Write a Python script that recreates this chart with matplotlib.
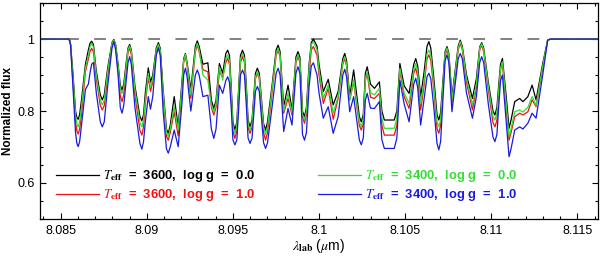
import matplotlib
matplotlib.use("Agg")
import matplotlib.pyplot as plt
from matplotlib.ticker import MultipleLocator, FixedLocator

plt.rcParams['font.family'] = ['Liberation Sans', 'DejaVu Sans']
plt.rcParams['mathtext.fontset'] = 'stix'

# wavelength (micron) of read points
wave = [8.0838, 8.08546, 8.08552, 8.085575, 8.085718, 8.085862, 8.08594, 8.086017, 8.08610, 8.086207,
        8.086437, 8.086609, 8.08670, 8.086799, 8.0869, 8.087069, 8.08730, 8.087414, 8.08753, 8.08773,
        8.08798, 8.088086, 8.08819, 8.088333, 8.08846, 8.088563, 8.08866, 8.088793, 8.08891, 8.089006,
        8.08910, 8.08931, 8.08960, 8.089713, 8.08981, 8.089914, 8.090086, 8.090213, 8.090345, 8.09055,
        8.090672, 8.09078, 8.090948, 8.09114, 8.091247, 8.09136, 8.091592, 8.091822, 8.09204, 8.09214,
        8.092241, 8.09234, 8.092557, 8.09282, 8.092931, 8.09304, 8.093259, 8.093546, 8.09375, 8.093891,
        8.09402, 8.094213, 8.094408, 8.09459, 8.094695, 8.09480, 8.0949, 8.09500, 8.095115, 8.09523,
        8.09534, 8.09544, 8.095557, 8.09567, 8.09578, 8.09588, 8.095994, 8.09611, 8.09631, 8.096419,
        8.09653, 8.09678, 8.096897, 8.09701, 8.09727, 8.09751, 8.097626, 8.09774, 8.097948, 8.098201,
        8.098431, 8.09866, 8.098776, 8.09889, 8.09904, 8.099155, 8.09927, 8.099425, 8.09955, 8.099672,
        8.099885, 8.1, 8.100247, 8.100534, 8.100822, 8.101109, 8.10138, 8.101494, 8.10160, 8.101782,
        8.102011, 8.10234, 8.102454, 8.10257, 8.10269, 8.102799, 8.102989, 8.103218, 8.103506, 8.10365,
        8.103793, 8.104368, 8.10452, 8.104695, 8.104943, 8.10523, 8.10550, 8.105615, 8.10573, 8.105902,
        8.106092, 8.10627, 8.106379, 8.10649, 8.106667, 8.10685, 8.106954, 8.10706, 8.10732, 8.107431,
        8.10754, 8.107718, 8.10808, 8.108201, 8.10832, 8.108563, 8.108908, 8.109138, 8.10933, 8.109443,
        8.10956, 8.109828, 8.11010, 8.110213, 8.11033, 8.11043, 8.11054, 8.110649, 8.11085, 8.111034,
        8.11115, 8.111362, 8.111649, 8.111839, 8.112126, 8.112374, 8.112603, 8.112989, 8.113276, 8.113448,
        8.1162]

flux_3600_g00 = [1, 1, .997, .985, .90, .80, .782, .777, .79, .83,
                 .93, .97, .988, .994, .985, .91, .845, .831, .845, .92,
                 .99, .999, .985, .93, .872, .858, .875, .93, .975, .985,
                 .97, .87, .785, .773, .79, .85, .92, .88, .90, .975,
                 .99, .975, .86, .75, .738, .76, .84, .756, .88, .945,
                 .96, .935, .86, .98, .995, .98, .93, .934, .83, .807,
                 .83, .932, .905, .96, .969, .955, .87, .77, .747, .77,
                 .87, .955, .969, .955, .87, .775, .756, .775, .905, .919,
                 .905, .765, .747, .77, .87, .97, .983, .965, .812, .872,
                 .803, .95, .965, .95, .80, .784, .81, .93, .99, 1.0,
                 .98, .93, .854, .888, .817, .854, .945, .960, .94, .840,
                 .914, .785, .770, .79, .905, .923, .875, .863, .881, .80,
                 .775, .775, .80, .932, .87, .849, .93, .946, .925, .840,
                 .905, .98, .993, .975, .89, .79, .775, .795, .965, .979,
                 .96, .840, .98, .997, .98, .90, .835, .89, .978, .990,
                 .975, .88, .80, .789, .81, .87, .93, .946, .85, .752,
                 .775, .826, .835, .826, .84, .872, .831, .932, .997, 1.0,
                 1.0]

flux_3600_g10 = [1, 1, .996, .985, .88, .77, .745, .736, .75, .79,
                 .91, .945, .965, .974, .965, .89, .815, .803, .815, .90,
                 .985, .996, .98, .915, .842, .826, .845, .91, .963, .974,
                 .958, .845, .747, .733, .755, .82, .895, .855, .88, .965,
                 .98, .965, .84, .73, .719, .74, .798, .731, .86, .935,
                 .953, .925, .835, .965, .983, .965, .915, .909, .81, .789,
                 .81, .909, .895, .935, .946, .93, .845, .745, .724, .745,
                 .85, .935, .951, .935, .85, .755, .738, .755, .89, .905,
                 .89, .74, .719, .74, .85, .955, .969, .95, .794, .835,
                 .789, .935, .951, .935, .785, .766, .79, .90, .97, .979,
                 .955, .90, .821, .863, .777, .835, .93, .946, .925, .831,
                 .881, .76, .747, .765, .885, .905, .838, .835, .849, .76,
                 .733, .733, .76, .914, .84, .807, .905, .919, .895, .803,
                 .868, .945, .956, .94, .86, .752, .738, .76, .955, .969,
                 .95, .821, .97, .988, .97, .88, .803, .865, .97, .983,
                 .965, .86, .768, .756, .775, .845, .915, .932, .82, .719,
                 .74, .784, .794, .789, .798, .831, .812, .92, .997, 1.0,
                 1.0]

flux_3400_g00 = [1, 1, .997, .985, .89, .79, .763, .756, .77, .81,
                 .92, .955, .978, .988, .978, .90, .83, .817, .83, .91,
                 .988, .997, .983, .925, .862, .849, .865, .92, .97, .981,
                 .966, .86, .768, .756, .775, .83, .905, .865, .89, .97,
                 .985, .97, .85, .74, .729, .75, .812, .747, .87, .94,
                 .958, .93, .845, .97, .988, .97, .90, .886, .815, .798,
                 .82, .923, .886, .945, .956, .94, .855, .758, .738, .758,
                 .86, .945, .960, .945, .855, .765, .747, .765, .895, .909,
                 .895, .755, .735, .755, .86, .96, .974, .955, .80, .849,
                 .795, .94, .956, .94, .79, .775, .80, .92, .985, .993,
                 .97, .915, .835, .872, .794, .840, .935, .951, .93, .83,
                 .886, .77, .757, .775, .89, .909, .85, .845, .863, .78,
                 .752, .752, .78, .919, .85, .821, .915, .932, .91, .82,
                 .88, .958, .969, .955, .87, .77, .756, .775, .96, .975,
                 .955, .83, .975, .993, .975, .89, .817, .875, .975, .987,
                 .97, .87, .785, .775, .795, .855, .92, .937, .83, .729,
                 .75, .798, .803, .797, .81, .840, .815, .925, .997, 1.0,
                 1.0]

flux_3400_g10 = [1, 1, .995, .982, .86, .74, .71, .701, .715, .76,
                 .86, .875, .905, .93, .935, .85, .77, .756, .77, .87,
                 .975, .993, .97, .90, .81, .794, .815, .88, .935, .951,
                 .93, .81, .71, .694, .715, .77, .84, .805, .84, .955,
                 .975, .955, .80, .695, .683, .70, .747, .701, .82, .90,
                 .919, .895, .80, .90, .914, .90, .84, .844, .75, .724,
                 .75, .872, .849, .885, .895, .88, .81, .72, .706, .72,
                 .81, .90, .914, .90, .815, .725, .710, .725, .855, .868,
                 .855, .712, .696, .712, .81, .905, .919, .90, .743, .807,
                 .761, .905, .923, .905, .735, .719, .74, .87, .925, .934,
                 .90, .85, .780, .812, .738, .784, .90, .916, .895, .798,
                 .840, .72, .706, .725, .83, .849, .808, .807, .826, .72,
                 .696, .696, .725, .886, .82, .770, .875, .891, .865, .761,
                 .831, .895, .905, .89, .81, .71, .692, .715, .94, .956,
                 .935, .798, .945, .960, .945, .85, .780, .84, .935, .951,
                 .935, .82, .728, .715, .735, .81, .885, .90, .78, .673,
                 .695, .747, .756, .750, .766, .794, .780, .90, .997, 1.0,
                 1.0]

labels = [r"$T_{\mathbf{eff}}$  =  3600,  log g  =  0.0",
          r"$T_{\mathbf{eff}}$  =  3600,  log g  =  1.0",
          r"$T_{\mathbf{eff}}$  =  3400,  log g  =  0.0",
          r"$T_{\mathbf{eff}}$  =  3400,  log g  =  1.0"]
colors = ['black', '#ee1111', '#33dd33', '#1a1add']
series = [flux_3600_g00, flux_3600_g10, flux_3400_g00, flux_3400_g10]

xticks = [8.085, 8.09, 8.095, 8.1, 8.105, 8.11, 8.115]
xticklabels = ['8.085', '8.09', '8.095', '8.1', '8.105', '8.11', '8.115']
yticks = [0.6, 0.8, 1.0]
yticklabels = ['0.6', '0.8', '1']

for s in series:
    assert len(s) == len(wave)

fig = plt.figure(figsize=(6.0, 2.57), dpi=100)
ax = fig.add_axes([0.0667, 0.148, 0.930, 0.840])

ax.axhline(1.0, color='#777777', lw=1.3, linestyle=(0, (6.5, 8.5)), zorder=1)
handles = []
for y, c, lab in zip(series, colors, labels):
    h, = ax.plot(wave, y, color=c, lw=0.9, label=lab, zorder=2,
                 solid_joinstyle='round')
    handles.append(h)

ax.set_xlim(8.0838, 8.1162)
ax.set_ylim(0.5, 1.1)
ax.xaxis.set_major_locator(FixedLocator(xticks))
ax.set_xticklabels(xticklabels)
ax.xaxis.set_minor_locator(MultipleLocator(0.001))
ax.yaxis.set_major_locator(FixedLocator(yticks))
ax.set_yticklabels(yticklabels)
ax.yaxis.set_minor_locator(MultipleLocator(0.05))
ax.tick_params(which='both', direction='in', top=True, right=True, labelsize=9)
ax.tick_params(which='major', length=4.5, width=0.8, pad=4)
ax.tick_params(which='minor', length=2.5, width=0.8)
for s in ax.spines.values():
    s.set_linewidth(0.9)

ax.set_xlabel(r"$\lambda_{\mathbf{lab}}$ ($\mu$m)", fontsize=10, labelpad=0)
ax.set_ylabel("Normalized flux", fontsize=8.5, fontweight='bold', labelpad=2)

leg = ax.legend(handles=handles, ncol=2, loc='upper left', bbox_to_anchor=(0.028, 0.235),
                frameon=False, fontsize=9.4, handlelength=3.3, handletextpad=0.3,
                columnspacing=4.85, labelspacing=0.25, borderpad=0, borderaxespad=0)
for t, c in zip(leg.get_texts(), colors):
    t.set_color(c)
    t.set_fontweight('bold')

fig.savefig("out.png", dpi=100)
